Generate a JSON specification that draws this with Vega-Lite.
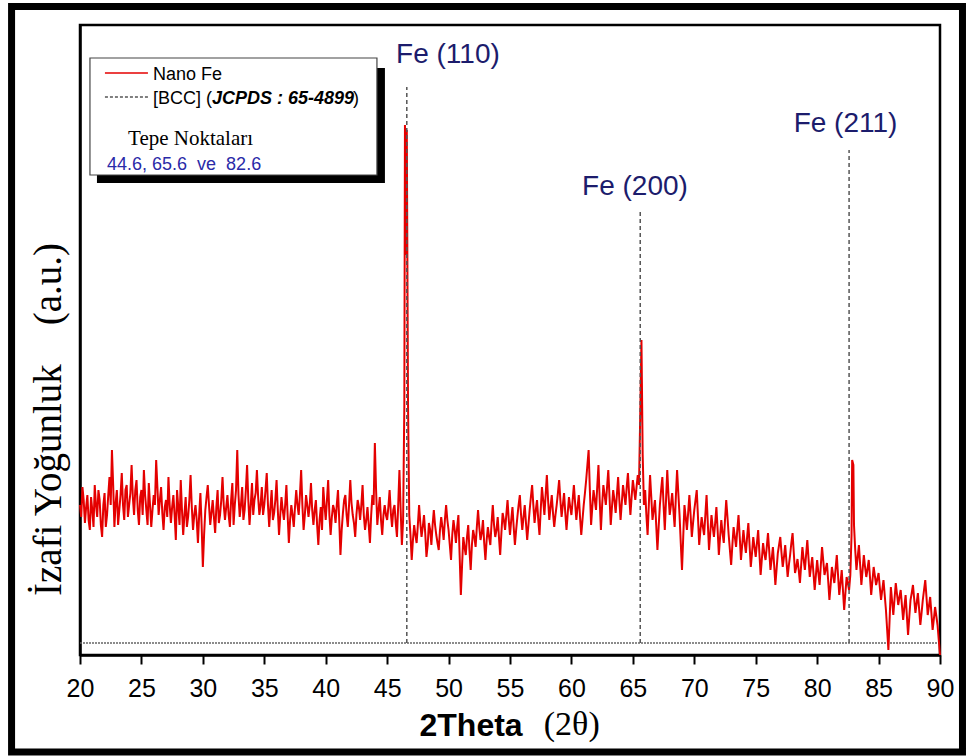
{
  "$schema": "https://vega.github.io/schema/vega-lite/v6.json",
  "width": 860,
  "height": 630,
  "autosize": "none",
  "padding": {"left": 80, "top": 25, "right": 26, "bottom": 101},
  "background": "white",
  "config": {"view": {"stroke": "black", "strokeWidth": 2.5}},
  "datasets": {
    "xrd": [
      {"x":20.0,"y":150},{"x":20.1,"y":138},{"x":20.2,"y":168},{"x":20.3,"y":155},{"x":20.4,"y":132},{"x":20.5,"y":148},{"x":20.6,"y":160},{"x":20.7,"y":135},{"x":20.8,"y":125},{"x":20.9,"y":158},
      {"x":21.0,"y":145},{"x":21.1,"y":128},{"x":21.2,"y":170},{"x":21.3,"y":150},{"x":21.4,"y":138},{"x":21.5,"y":165},{"x":21.6,"y":155},{"x":21.7,"y":130},{"x":21.8,"y":118},{"x":21.9,"y":150},
      {"x":22.0,"y":162},{"x":22.1,"y":128},{"x":22.2,"y":140},{"x":22.3,"y":160},{"x":22.4,"y":178},{"x":22.5,"y":150},{"x":22.6,"y":205},{"x":22.7,"y":170},{"x":22.8,"y":128},{"x":22.9,"y":152},
      {"x":23.0,"y":165},{"x":23.1,"y":130},{"x":23.2,"y":145},{"x":23.3,"y":160},{"x":23.4,"y":182},{"x":23.5,"y":150},{"x":23.6,"y":135},{"x":23.7,"y":165},{"x":23.8,"y":170},{"x":23.9,"y":138},
      {"x":24.0,"y":150},{"x":24.1,"y":162},{"x":24.2,"y":190},{"x":24.3,"y":158},{"x":24.4,"y":140},{"x":24.5,"y":165},{"x":24.6,"y":175},{"x":24.7,"y":145},{"x":24.8,"y":130},{"x":24.9,"y":158},
      {"x":25.0,"y":165},{"x":25.1,"y":140},{"x":25.2,"y":185},{"x":25.3,"y":160},{"x":25.4,"y":145},{"x":25.5,"y":130},{"x":25.6,"y":172},{"x":25.7,"y":150},{"x":25.8,"y":128},{"x":25.9,"y":145},
      {"x":26.0,"y":160},{"x":26.1,"y":150},{"x":26.2,"y":195},{"x":26.3,"y":168},{"x":26.4,"y":140},{"x":26.5,"y":155},{"x":26.6,"y":168},{"x":26.7,"y":142},{"x":26.8,"y":125},{"x":26.9,"y":148},
      {"x":27.0,"y":155},{"x":27.1,"y":138},{"x":27.2,"y":178},{"x":27.3,"y":150},{"x":27.4,"y":132},{"x":27.5,"y":148},{"x":27.6,"y":160},{"x":27.7,"y":140},{"x":27.8,"y":115},{"x":27.9,"y":165},
      {"x":28.0,"y":148},{"x":28.1,"y":130},{"x":28.2,"y":175},{"x":28.3,"y":145},{"x":28.4,"y":120},{"x":28.5,"y":140},{"x":28.6,"y":158},{"x":28.7,"y":128},{"x":28.8,"y":138},{"x":28.9,"y":155},
      {"x":29.0,"y":180},{"x":29.1,"y":148},{"x":29.2,"y":125},{"x":29.3,"y":140},{"x":29.4,"y":150},{"x":29.5,"y":135},{"x":29.6,"y":112},{"x":29.7,"y":140},{"x":29.8,"y":162},{"x":29.9,"y":130},
      {"x":30.0,"y":88},{"x":30.1,"y":120},{"x":30.2,"y":145},{"x":30.3,"y":158},{"x":30.4,"y":170},{"x":30.5,"y":150},{"x":30.6,"y":130},{"x":30.7,"y":142},{"x":30.8,"y":155},{"x":30.9,"y":138},
      {"x":31.0,"y":122},{"x":31.1,"y":148},{"x":31.2,"y":165},{"x":31.3,"y":132},{"x":31.4,"y":140},{"x":31.5,"y":155},{"x":31.6,"y":178},{"x":31.7,"y":150},{"x":31.8,"y":135},{"x":31.9,"y":148},
      {"x":32.0,"y":160},{"x":32.1,"y":140},{"x":32.2,"y":128},{"x":32.3,"y":155},{"x":32.4,"y":172},{"x":32.5,"y":130},{"x":32.6,"y":150},{"x":32.7,"y":165},{"x":32.8,"y":205},{"x":32.9,"y":160},
      {"x":33.0,"y":138},{"x":33.1,"y":150},{"x":33.2,"y":168},{"x":33.3,"y":135},{"x":33.4,"y":145},{"x":33.5,"y":165},{"x":33.6,"y":190},{"x":33.7,"y":155},{"x":33.8,"y":130},{"x":33.9,"y":150},
      {"x":34.0,"y":172},{"x":34.1,"y":140},{"x":34.2,"y":155},{"x":34.3,"y":162},{"x":34.4,"y":185},{"x":34.5,"y":158},{"x":34.6,"y":140},{"x":34.7,"y":150},{"x":34.8,"y":168},{"x":34.9,"y":140},
      {"x":35.0,"y":150},{"x":35.1,"y":165},{"x":35.2,"y":182},{"x":35.3,"y":150},{"x":35.4,"y":128},{"x":35.5,"y":148},{"x":35.6,"y":165},{"x":35.7,"y":135},{"x":35.8,"y":142},{"x":35.9,"y":155},
      {"x":36.0,"y":175},{"x":36.1,"y":145},{"x":36.2,"y":120},{"x":36.3,"y":140},{"x":36.4,"y":158},{"x":36.5,"y":145},{"x":36.6,"y":135},{"x":36.7,"y":150},{"x":36.8,"y":170},{"x":36.9,"y":140},
      {"x":37.0,"y":112},{"x":37.1,"y":135},{"x":37.2,"y":150},{"x":37.3,"y":140},{"x":37.4,"y":128},{"x":37.5,"y":148},{"x":37.6,"y":165},{"x":37.7,"y":150},{"x":37.8,"y":140},{"x":37.9,"y":160},
      {"x":38.0,"y":185},{"x":38.1,"y":150},{"x":38.2,"y":125},{"x":38.3,"y":140},{"x":38.4,"y":160},{"x":38.5,"y":150},{"x":38.6,"y":138},{"x":38.7,"y":150},{"x":38.8,"y":172},{"x":38.9,"y":145},
      {"x":39.0,"y":130},{"x":39.1,"y":145},{"x":39.2,"y":155},{"x":39.3,"y":130},{"x":39.4,"y":110},{"x":39.5,"y":135},{"x":39.6,"y":148},{"x":39.7,"y":125},{"x":39.8,"y":168},{"x":39.9,"y":150},
      {"x":40.0,"y":135},{"x":40.1,"y":155},{"x":40.2,"y":175},{"x":40.3,"y":140},{"x":40.4,"y":120},{"x":40.5,"y":138},{"x":40.6,"y":150},{"x":40.7,"y":145},{"x":40.8,"y":132},{"x":40.9,"y":150},
      {"x":41.0,"y":165},{"x":41.1,"y":135},{"x":41.2,"y":100},{"x":41.3,"y":125},{"x":41.4,"y":142},{"x":41.5,"y":155},{"x":41.6,"y":160},{"x":41.7,"y":140},{"x":41.8,"y":128},{"x":41.9,"y":150},
      {"x":42.0,"y":175},{"x":42.1,"y":152},{"x":42.2,"y":140},{"x":42.3,"y":132},{"x":42.4,"y":118},{"x":42.5,"y":140},{"x":42.6,"y":155},{"x":42.7,"y":148},{"x":42.8,"y":135},{"x":42.9,"y":150},
      {"x":43.0,"y":170},{"x":43.1,"y":140},{"x":43.2,"y":125},{"x":43.3,"y":135},{"x":43.4,"y":148},{"x":43.5,"y":130},{"x":43.6,"y":112},{"x":43.7,"y":140},{"x":43.8,"y":160},{"x":43.9,"y":150},
      {"x":44.0,"y":212},{"x":44.1,"y":165},{"x":44.2,"y":130},{"x":44.3,"y":145},{"x":44.4,"y":158},{"x":44.5,"y":135},{"x":44.6,"y":120},{"x":44.7,"y":140},{"x":44.8,"y":150},{"x":44.9,"y":140},
      {"x":45.0,"y":135},{"x":45.1,"y":148},{"x":45.2,"y":165},{"x":45.3,"y":142},{"x":45.4,"y":128},{"x":45.5,"y":145},{"x":45.6,"y":150},{"x":45.7,"y":132},{"x":45.8,"y":118},{"x":45.9,"y":150},
      {"x":46.0,"y":185},{"x":46.1,"y":145},{"x":46.2,"y":110},{"x":46.3,"y":135},{"x":46.4,"y":250},{"x":46.45,"y":530},{"x":46.55,"y":400},{"x":46.6,"y":525},{"x":46.7,"y":250},{"x":46.8,"y":140},{"x":46.9,"y":120},
      {"x":47.0,"y":95},{"x":47.1,"y":115},{"x":47.2,"y":130},{"x":47.3,"y":120},{"x":47.4,"y":112},{"x":47.5,"y":130},{"x":47.6,"y":150},{"x":47.7,"y":132},{"x":47.8,"y":118},{"x":47.9,"y":128},
      {"x":48.0,"y":140},{"x":48.1,"y":122},{"x":48.2,"y":98},{"x":48.3,"y":110},{"x":48.4,"y":132},{"x":48.5,"y":125},{"x":48.6,"y":110},{"x":48.7,"y":130},{"x":48.8,"y":145},{"x":48.9,"y":130},
      {"x":49.0,"y":120},{"x":49.1,"y":112},{"x":49.2,"y":105},{"x":49.3,"y":125},{"x":49.4,"y":138},{"x":49.5,"y":128},{"x":49.6,"y":115},{"x":49.7,"y":135},{"x":49.8,"y":150},{"x":49.9,"y":135},
      {"x":50.0,"y":125},{"x":50.1,"y":110},{"x":50.2,"y":95},{"x":50.3,"y":120},{"x":50.4,"y":135},{"x":50.5,"y":125},{"x":50.6,"y":112},{"x":50.7,"y":128},{"x":50.8,"y":140},{"x":50.9,"y":100},
      {"x":51.0,"y":60},{"x":51.1,"y":90},{"x":51.2,"y":118},{"x":51.3,"y":108},{"x":51.4,"y":100},{"x":51.5,"y":118},{"x":51.6,"y":130},{"x":51.7,"y":105},{"x":51.8,"y":85},{"x":51.9,"y":110},
      {"x":52.0,"y":125},{"x":52.1,"y":118},{"x":52.2,"y":108},{"x":52.3,"y":128},{"x":52.4,"y":145},{"x":52.5,"y":128},{"x":52.6,"y":115},{"x":52.7,"y":122},{"x":52.8,"y":135},{"x":52.9,"y":112},
      {"x":53.0,"y":95},{"x":53.1,"y":115},{"x":53.2,"y":128},{"x":53.3,"y":118},{"x":53.4,"y":110},{"x":53.5,"y":132},{"x":53.6,"y":150},{"x":53.7,"y":130},{"x":53.8,"y":118},{"x":53.9,"y":125},
      {"x":54.0,"y":138},{"x":54.1,"y":118},{"x":54.2,"y":100},{"x":54.3,"y":122},{"x":54.4,"y":142},{"x":54.5,"y":135},{"x":54.6,"y":125},{"x":54.7,"y":140},{"x":54.8,"y":155},{"x":54.9,"y":135},
      {"x":55.0,"y":120},{"x":55.1,"y":135},{"x":55.2,"y":148},{"x":55.3,"y":128},{"x":55.4,"y":110},{"x":55.5,"y":125},{"x":55.6,"y":138},{"x":55.7,"y":150},{"x":55.8,"y":160},{"x":55.9,"y":140},
      {"x":56.0,"y":125},{"x":56.1,"y":138},{"x":56.2,"y":150},{"x":56.3,"y":132},{"x":56.4,"y":115},{"x":56.5,"y":130},{"x":56.6,"y":145},{"x":56.7,"y":158},{"x":56.8,"y":170},{"x":56.9,"y":150},
      {"x":57.0,"y":132},{"x":57.1,"y":145},{"x":57.2,"y":155},{"x":57.3,"y":135},{"x":57.4,"y":120},{"x":57.5,"y":145},{"x":57.6,"y":168},{"x":57.7,"y":155},{"x":57.8,"y":140},{"x":57.9,"y":160},
      {"x":58.0,"y":180},{"x":58.1,"y":155},{"x":58.2,"y":135},{"x":58.3,"y":148},{"x":58.4,"y":160},{"x":58.5,"y":142},{"x":58.6,"y":128},{"x":58.7,"y":140},{"x":58.8,"y":150},{"x":58.9,"y":162},
      {"x":59.0,"y":175},{"x":59.1,"y":155},{"x":59.2,"y":138},{"x":59.3,"y":150},{"x":59.4,"y":162},{"x":59.5,"y":142},{"x":59.6,"y":125},{"x":59.7,"y":142},{"x":59.8,"y":158},{"x":59.9,"y":148},
      {"x":60.0,"y":140},{"x":60.1,"y":155},{"x":60.2,"y":170},{"x":60.3,"y":152},{"x":60.4,"y":135},{"x":60.5,"y":148},{"x":60.6,"y":160},{"x":60.7,"y":138},{"x":60.8,"y":120},{"x":60.9,"y":135},
      {"x":61.0,"y":150},{"x":61.1,"y":162},{"x":61.2,"y":175},{"x":61.3,"y":190},{"x":61.4,"y":205},{"x":61.5,"y":165},{"x":61.6,"y":130},{"x":61.7,"y":148},{"x":61.8,"y":165},{"x":61.9,"y":155},
      {"x":62.0,"y":145},{"x":62.1,"y":168},{"x":62.2,"y":190},{"x":62.3,"y":155},{"x":62.4,"y":125},{"x":62.5,"y":150},{"x":62.6,"y":170},{"x":62.7,"y":160},{"x":62.8,"y":150},{"x":62.9,"y":168},
      {"x":63.0,"y":185},{"x":63.1,"y":158},{"x":63.2,"y":130},{"x":63.3,"y":148},{"x":63.4,"y":165},{"x":63.5,"y":155},{"x":63.6,"y":142},{"x":63.7,"y":160},{"x":63.8,"y":178},{"x":63.9,"y":155},
      {"x":64.0,"y":135},{"x":64.1,"y":152},{"x":64.2,"y":170},{"x":64.3,"y":160},{"x":64.4,"y":150},{"x":64.5,"y":168},{"x":64.6,"y":182},{"x":64.7,"y":160},{"x":64.8,"y":140},{"x":64.9,"y":158},
      {"x":65.0,"y":175},{"x":65.1,"y":165},{"x":65.2,"y":155},{"x":65.3,"y":168},{"x":65.4,"y":180},{"x":65.5,"y":170},{"x":65.6,"y":240},{"x":65.7,"y":315},{"x":65.8,"y":200},{"x":65.9,"y":150},
      {"x":66.0,"y":165},{"x":66.1,"y":140},{"x":66.2,"y":120},{"x":66.3,"y":150},{"x":66.4,"y":180},{"x":66.5,"y":158},{"x":66.6,"y":135},{"x":66.7,"y":145},{"x":66.8,"y":155},{"x":66.9,"y":130},
      {"x":67.0,"y":105},{"x":67.1,"y":128},{"x":67.2,"y":150},{"x":67.3,"y":165},{"x":67.4,"y":178},{"x":67.5,"y":150},{"x":67.6,"y":125},{"x":67.7,"y":155},{"x":67.8,"y":185},{"x":67.9,"y":160},
      {"x":68.0,"y":140},{"x":68.1,"y":150},{"x":68.2,"y":162},{"x":68.3,"y":145},{"x":68.4,"y":128},{"x":68.5,"y":158},{"x":68.6,"y":185},{"x":68.7,"y":162},{"x":68.8,"y":140},{"x":68.9,"y":112},
      {"x":69.0,"y":85},{"x":69.1,"y":118},{"x":69.2,"y":150},{"x":69.3,"y":138},{"x":69.4,"y":125},{"x":69.5,"y":142},{"x":69.6,"y":160},{"x":69.7,"y":140},{"x":69.8,"y":118},{"x":69.9,"y":132},
      {"x":70.0,"y":145},{"x":70.1,"y":155},{"x":70.2,"y":165},{"x":70.3,"y":138},{"x":70.4,"y":110},{"x":70.5,"y":125},{"x":70.6,"y":138},{"x":70.7,"y":128},{"x":70.8,"y":120},{"x":70.9,"y":140},
      {"x":71.0,"y":160},{"x":71.1,"y":132},{"x":71.2,"y":105},{"x":71.3,"y":122},{"x":71.4,"y":140},{"x":71.5,"y":128},{"x":71.6,"y":118},{"x":71.7,"y":132},{"x":71.8,"y":148},{"x":71.9,"y":125},
      {"x":72.0,"y":100},{"x":72.1,"y":118},{"x":72.2,"y":135},{"x":72.3,"y":122},{"x":72.4,"y":112},{"x":72.5,"y":135},{"x":72.6,"y":155},{"x":72.7,"y":138},{"x":72.8,"y":120},{"x":72.9,"y":105},
      {"x":73.0,"y":90},{"x":73.1,"y":110},{"x":73.2,"y":128},{"x":73.3,"y":118},{"x":73.4,"y":108},{"x":73.5,"y":125},{"x":73.6,"y":140},{"x":73.7,"y":118},{"x":73.8,"y":95},{"x":73.9,"y":110},
      {"x":74.0,"y":125},{"x":74.1,"y":112},{"x":74.2,"y":102},{"x":74.3,"y":118},{"x":74.4,"y":132},{"x":74.5,"y":110},{"x":74.6,"y":88},{"x":74.7,"y":102},{"x":74.8,"y":118},{"x":74.9,"y":108},
      {"x":75.0,"y":98},{"x":75.1,"y":112},{"x":75.2,"y":125},{"x":75.3,"y":102},{"x":75.4,"y":80},{"x":75.5,"y":96},{"x":75.6,"y":112},{"x":75.7,"y":102},{"x":75.8,"y":95},{"x":75.9,"y":108},
      {"x":76.0,"y":122},{"x":76.1,"y":104},{"x":76.2,"y":85},{"x":76.3,"y":96},{"x":76.4,"y":108},{"x":76.5,"y":90},{"x":76.6,"y":70},{"x":76.7,"y":86},{"x":76.8,"y":102},{"x":76.9,"y":110},
      {"x":77.0,"y":118},{"x":77.1,"y":102},{"x":77.2,"y":88},{"x":77.3,"y":98},{"x":77.4,"y":110},{"x":77.5,"y":94},{"x":77.6,"y":78},{"x":77.7,"y":90},{"x":77.8,"y":100},{"x":77.9,"y":112},
      {"x":78.0,"y":122},{"x":78.1,"y":102},{"x":78.2,"y":82},{"x":78.3,"y":88},{"x":78.4,"y":96},{"x":78.5,"y":85},{"x":78.6,"y":72},{"x":78.7,"y":90},{"x":78.8,"y":108},{"x":78.9,"y":96},
      {"x":79.0,"y":85},{"x":79.1,"y":100},{"x":79.2,"y":115},{"x":79.3,"y":96},{"x":79.4,"y":78},{"x":79.5,"y":88},{"x":79.6,"y":98},{"x":79.7,"y":82},{"x":79.8,"y":65},{"x":79.9,"y":80},
      {"x":80.0,"y":95},{"x":80.1,"y":82},{"x":80.2,"y":70},{"x":80.3,"y":90},{"x":80.4,"y":108},{"x":80.5,"y":94},{"x":80.6,"y":80},{"x":80.7,"y":86},{"x":80.8,"y":92},{"x":80.9,"y":74},
      {"x":81.0,"y":55},{"x":81.1,"y":70},{"x":81.2,"y":88},{"x":81.3,"y":80},{"x":81.4,"y":72},{"x":81.5,"y":86},{"x":81.6,"y":100},{"x":81.7,"y":80},{"x":81.8,"y":60},{"x":81.9,"y":72},
      {"x":82.0,"y":85},{"x":82.1,"y":65},{"x":82.2,"y":45},{"x":82.3,"y":62},{"x":82.4,"y":78},{"x":82.5,"y":72},{"x":82.6,"y":65},{"x":82.7,"y":80},{"x":82.8,"y":120},{"x":82.85,"y":195},{"x":82.95,"y":190},
      {"x":83.0,"y":130},{"x":83.1,"y":105},{"x":83.2,"y":85},{"x":83.3,"y":98},{"x":83.4,"y":110},{"x":83.5,"y":90},{"x":83.6,"y":70},{"x":83.7,"y":85},{"x":83.8,"y":100},{"x":83.9,"y":88},
      {"x":84.0,"y":78},{"x":84.1,"y":86},{"x":84.2,"y":95},{"x":84.3,"y":78},{"x":84.4,"y":60},{"x":84.5,"y":74},{"x":84.6,"y":88},{"x":84.7,"y":79},{"x":84.8,"y":70},{"x":84.9,"y":76},
      {"x":85.0,"y":82},{"x":85.1,"y":68},{"x":85.2,"y":55},{"x":85.3,"y":65},{"x":85.4,"y":75},{"x":85.5,"y":60},{"x":85.6,"y":45},{"x":85.7,"y":25},{"x":85.8,"y":5},{"x":85.9,"y":36},
      {"x":86.0,"y":68},{"x":86.1,"y":54},{"x":86.2,"y":40},{"x":86.3,"y":56},{"x":86.4,"y":72},{"x":86.5,"y":61},{"x":86.6,"y":50},{"x":86.7,"y":58},{"x":86.8,"y":65},{"x":86.9,"y":50},
      {"x":87.0,"y":35},{"x":87.1,"y":48},{"x":87.2,"y":60},{"x":87.3,"y":40},{"x":87.4,"y":20},{"x":87.5,"y":38},{"x":87.6,"y":55},{"x":87.7,"y":62},{"x":87.8,"y":70},{"x":87.9,"y":56},
      {"x":88.0,"y":42},{"x":88.1,"y":52},{"x":88.2,"y":62},{"x":88.3,"y":46},{"x":88.4,"y":30},{"x":88.5,"y":42},{"x":88.6,"y":55},{"x":88.7,"y":65},{"x":88.8,"y":75},{"x":88.9,"y":58},
      {"x":89.0,"y":40},{"x":89.1,"y":49},{"x":89.2,"y":58},{"x":89.3,"y":42},{"x":89.4,"y":25},{"x":89.5,"y":36},{"x":89.6,"y":48},{"x":89.7,"y":39},{"x":89.8,"y":30},{"x":89.9,"y":15},{"x":90.0,"y":0}
    ],
    "refs": [
      {"x": 46.6, "y0": 12, "y1": 568, "label": "Fe (110)", "lx": 49.95, "ly": 592},
      {"x": 65.6, "y0": 12, "y1": 445, "label": "Fe (200)", "lx": 65.17, "ly": 460},
      {"x": 82.6, "y0": 12, "y1": 505, "label": "Fe (211)", "lx": 82.31, "ly": 523}
    ]
  },
  "layer": [
    {
      "data": {"values": [{"x0": 14.43, "x1": 91.83, "y0": -97, "y1": 648.5}]},
      "mark": {"type": "rect", "fill": "transparent", "stroke": "black", "strokeWidth": 7},
      "encoding": {
        "x": {"field": "x0", "type": "quantitative", "scale": {"domain": [20, 90], "nice": false, "zero": false},
          "axis": {"values": [20,22.5,25,27.5,30,32.5,35,37.5,40,42.5,45,47.5,50,52.5,55,57.5,60,62.5,65,67.5,70,72.5,75,77.5,80,82.5,85,87.5,90],
            "labelExpr": "datum.value % 5 === 0 ? datum.label : ''",
            "labelFont": "Liberation Sans", "labelFontSize": 25, "labelColor": "black", "labelPadding": 12,
            "labelFlush": false, "labelOverlap": false,
            "tickColor": "black", "tickWidth": 2,
            "tickSize": {"condition": {"test": "datum.value % 5 === 0", "value": 9}, "value": 5},
            "domainColor": "black", "domainWidth": 2.5, "grid": false,
            "title": "2Theta", "titleFont": "Liberation Sans", "titleFontWeight": "bold", "titleFontSize": 32, "titleColor": "black",
            "titleAnchor": "start", "titleAlign": "left", "titleBaseline": "alphabetic", "titleX": 339, "titleY": 80}},
        "x2": {"field": "x1"},
        "y": {"field": "y0", "type": "quantitative", "scale": {"domain": [0, 630], "nice": false, "zero": false},
          "axis": {"ticks": false, "labels": false, "grid": false, "domainColor": "black", "domainWidth": 2.5,
            "title": "İzafi Yoğunluk\u00a0\u00a0\u00a0\u00a0(a.u.)", "titleFont": "Liberation Serif", "titleFontWeight": "normal", "titleFontSize": 39, "titleColor": "black",
            "titleAngle": -90, "titleAlign": "center", "titleBaseline": "middle", "titleX": -32, "titleY": 394}},
        "y2": {"field": "y1"}
      }
    },
    {
      "data": {"values": [{"a": 20, "b": 90, "y": 12}]},
      "mark": {"type": "rule", "color": "#666666", "strokeWidth": 1.3, "strokeDash": [2, 1]},
      "encoding": {"x": {"field": "a", "type": "quantitative"}, "x2": {"field": "b"}, "y": {"field": "y", "type": "quantitative"}}
    },
    {
      "data": {"name": "xrd"},
      "mark": {"type": "line", "color": "#e40000", "strokeWidth": 2, "interpolate": "linear"},
      "encoding": {"x": {"field": "x", "type": "quantitative"}, "y": {"field": "y", "type": "quantitative"}}
    },
    {
      "data": {"name": "refs"},
      "mark": {"type": "rule", "color": "#555555", "strokeWidth": 1.5, "strokeDash": [4, 3]},
      "encoding": {"x": {"field": "x", "type": "quantitative"}, "y": {"field": "y0", "type": "quantitative"}, "y2": {"field": "y1"}}
    },
    {
      "data": {"name": "refs"},
      "mark": {"type": "text", "font": "Liberation Sans", "fontSize": 28, "color": "#1c1c6c", "align": "center", "baseline": "alphabetic"},
      "encoding": {"x": {"field": "lx", "type": "quantitative"}, "y": {"field": "ly", "type": "quantitative"}, "text": {"field": "label"}}
    },
    {
      "data": {"values": [{"x0": 21.38, "x1": 44.82, "y0": 472, "y1": 587}]},
      "mark": {"type": "rect", "fill": "black"},
      "encoding": {"x": {"field": "x0", "type": "quantitative"}, "x2": {"field": "x1"}, "y": {"field": "y0", "type": "quantitative"}, "y2": {"field": "y1"}}
    },
    {
      "data": {"values": [{"x0": 20.81, "x1": 44.17, "y0": 480, "y1": 597}]},
      "mark": {"type": "rect", "fill": "white", "stroke": "#444444", "strokeWidth": 1.2},
      "encoding": {"x": {"field": "x0", "type": "quantitative"}, "x2": {"field": "x1"}, "y": {"field": "y0", "type": "quantitative"}, "y2": {"field": "y1"}}
    },
    {
      "data": {"values": [{"a": 22.03, "b": 25.53, "y": 582}]},
      "mark": {"type": "rule", "color": "#e40000", "strokeWidth": 1.5},
      "encoding": {"x": {"field": "a", "type": "quantitative"}, "x2": {"field": "b"}, "y": {"field": "y", "type": "quantitative"}}
    },
    {
      "data": {"values": [{"a": 22.03, "b": 25.53, "y": 558}]},
      "mark": {"type": "rule", "color": "#555555", "strokeWidth": 1.5, "strokeDash": [3, 2]},
      "encoding": {"x": {"field": "a", "type": "quantitative"}, "x2": {"field": "b"}, "y": {"field": "y", "type": "quantitative"}}
    },
    {
      "data": {"values": [{"x": 25.94, "y": 575, "t": "Nano Fe"}, {"x": 25.94, "y": 551, "t": "[BCC] ("}, {"x": 42.22, "y": 551, "t": ")"}]},
      "mark": {"type": "text", "font": "Liberation Sans", "fontSize": 18, "color": "black", "align": "left", "baseline": "alphabetic"},
      "encoding": {"x": {"field": "x", "type": "quantitative"}, "y": {"field": "y", "type": "quantitative"}, "text": {"field": "t"}}
    },
    {
      "data": {"values": [{"x": 30.74, "y": 551, "t": "JCPDS : 65-4899"}]},
      "mark": {"type": "text", "font": "Liberation Sans", "fontSize": 18, "fontWeight": "bold", "fontStyle": "italic", "color": "black", "align": "left", "baseline": "alphabetic"},
      "encoding": {"x": {"field": "x", "type": "quantitative"}, "y": {"field": "y", "type": "quantitative"}, "text": {"field": "t"}}
    },
    {
      "data": {"values": [{"x": 23.91, "y": 510, "t": "Tepe Noktaları"}]},
      "mark": {"type": "text", "font": "Liberation Serif", "fontSize": 21, "color": "black", "align": "left", "baseline": "alphabetic"},
      "encoding": {"x": {"field": "x", "type": "quantitative"}, "y": {"field": "y", "type": "quantitative"}, "text": {"field": "t"}}
    },
    {
      "data": {"values": [{"x": 22.2, "y": 485, "t": "44.6, 65.6\u00a0\u00a0ve\u00a0\u00a082.6"}]},
      "mark": {"type": "text", "font": "Liberation Sans", "fontSize": 18, "color": "#2a2aa8", "align": "left", "baseline": "alphabetic"},
      "encoding": {"x": {"field": "x", "type": "quantitative"}, "y": {"field": "y", "type": "quantitative"}, "text": {"field": "t"}}
    },
    {
      "data": {"values": [{"x": 57.75, "y": -80, "t": "(2θ)"}]},
      "mark": {"type": "text", "font": "Liberation Serif", "fontSize": 34, "color": "black", "align": "left", "baseline": "alphabetic"},
      "encoding": {"x": {"field": "x", "type": "quantitative"}, "y": {"field": "y", "type": "quantitative"}, "text": {"field": "t"}}
    }
  ]
}
